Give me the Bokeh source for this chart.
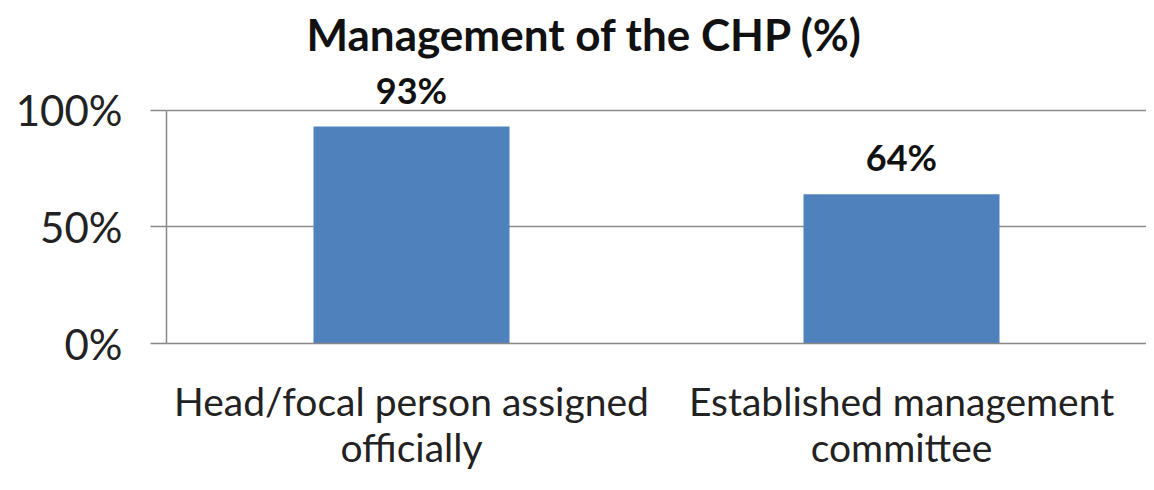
from bokeh.plotting import figure
from bokeh.models import ColumnDataSource, LabelSet, FactorRange, FixedTicker
from bokeh.embed import file_html
from bokeh.resources import INLINE
from bokeh.core.properties import value

# ---- data ----
categories = ["Head/focal person assigned\nofficially", "Established management\ncommittee"]
values = [93, 64]
value_labels = ["93%", "64%"]
y_ticks = [0, 50, 100]
y_tick_labels = ["0%", "50%", "100%"]
title_text = "Management of the CHP (%)"

FONT = "Lato"
BAR = "#4F81BD"

src = ColumnDataSource(dict(cat=categories, val=values, lab=value_labels))

p = figure(
    width=1146, height=474,
    x_range=FactorRange(factors=categories, range_padding=0),
    y_range=(0, 119.6),
    output_backend="svg", toolbar_location=None,
    min_border_left=166, min_border_right=0,
    min_border_top=62, min_border_bottom=131,
)
p.outline_line_color = None
p.background_fill_color = "white"
p.border_fill_color = "white"

p.title.text = title_text
p.title.align = "left"
p.title.offset = 140
p.title.text_font = FONT
p.title.text_font_style = "bold"
p.title.text_font_size = "44px"
p.title.text_color = "#111111"
p.title.standoff = 10

p.vbar(x="cat", top="val", width=0.4, source=src, fill_color=BAR, line_color=None)

p.add_layout(LabelSet(x="cat", y="val", text="lab", source=src, y_offset=23,
                      text_align="center", text_baseline="alphabetic",
                      text_font=value(FONT), text_font_style="bold",
                      text_font_size="36px", text_color="#111111"))

# y axis
p.yaxis.ticker = FixedTicker(ticks=y_ticks)
p.yaxis.bounds = (0, 100)
p.yaxis.major_label_overrides = {t: l for t, l in zip(y_ticks, y_tick_labels)}
p.yaxis.major_label_text_font = FONT
p.yaxis.major_label_text_font_size = "42px"
p.yaxis.major_label_text_color = "#222222"
p.yaxis.axis_line_color = "#888888"
p.yaxis.axis_line_width = 1.5
p.yaxis.major_tick_line_color = "#888888"
p.yaxis.major_tick_line_width = 1.5
p.yaxis.major_tick_out = 16
p.yaxis.major_tick_in = 0
p.yaxis.minor_tick_line_color = None
p.yaxis.major_label_standoff = 28

# x axis
p.xaxis.major_label_text_font = FONT
p.xaxis.major_label_text_font_size = "39px"
p.xaxis.major_label_text_color = "#222222"
p.xaxis.major_label_text_line_height = 1.0
p.xaxis.axis_line_color = "#888888"
p.xaxis.axis_line_width = 1.5
p.xaxis.major_tick_line_color = None
p.xaxis.major_label_standoff = 28
p.xaxis.major_label_orientation = "horizontal"

p.xgrid.grid_line_color = None
p.ygrid.ticker = FixedTicker(ticks=y_ticks)
p.ygrid.grid_line_color = "#8a8a8a"
p.ygrid.grid_line_width = 1.5

open("out.html", "w").write(file_html(p, INLINE))
